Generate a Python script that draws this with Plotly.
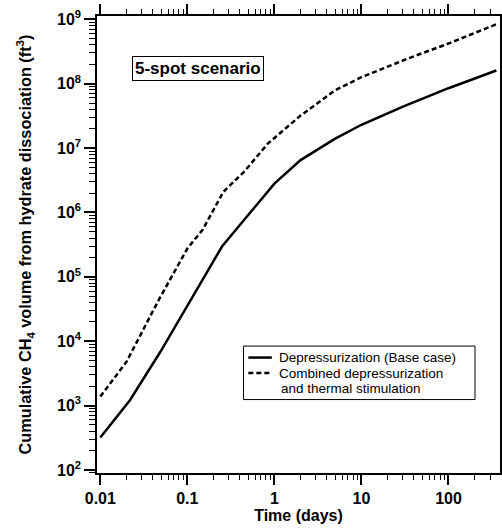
import plotly.graph_objects as go

# Data
time_dep = [0.01, 0.022, 0.049, 0.1, 0.25, 0.5, 1, 2, 5, 10, 30, 100, 355]
vol_dep = [320, 1220, 6850, 3.6e4, 2.95e5, 9.1e5, 2.8e6, 6.5e6, 1.4e7, 2.3e7, 4.4e7, 8.5e7, 1.6e8]

time_comb = [0.01, 0.02, 0.047, 0.1, 0.15, 0.26, 0.45, 0.84, 2, 5, 10, 34, 100, 365]
vol_comb = [1380, 4800, 4.4e4, 2.75e5, 5.4e5, 2.1e6, 4.3e6, 1.17e7, 3.2e7, 7.9e7, 1.26e8, 2.45e8, 4.2e8, 8.5e8]

series_names = ["Depressurization (Base case)", "Combined depressurization", "and thermal stimulation"]

x_tickvals = [0.01, 0.1, 1, 10, 100]
x_ticktext = ["0.01", "0.1", "1", "10", "100"]
y_exps = [2, 3, 4, 5, 6, 7, 8, 9]
y_tickvals = [10 ** e for e in y_exps]
y_ticktext = [f"10<sup>{e}</sup>" for e in y_exps]

x_minor = [m * 10 ** e for e in range(-3, 3) for m in range(2, 10)]
y_minor = [m * 10 ** e for e in range(1, 10) for m in range(2, 10)]

font_family = "Liberation Sans, Arial, Helvetica, sans-serif"
DASH = "5px,3px"

fig = go.Figure()
fig.add_trace(go.Scatter(
    x=time_dep, y=vol_dep, mode="lines",
    name=series_names[0], showlegend=False,
    line=dict(color="black", width=2.5),
))
fig.add_trace(go.Scatter(
    x=time_comb, y=vol_comb, mode="lines",
    name=series_names[1] + " " + series_names[2], showlegend=False,
    line=dict(color="black", width=2.5, dash=DASH),
))

axis_common = dict(
    showline=True, linecolor="black", linewidth=1.5,
    mirror="allticks", ticks="outside", tickcolor="black", tickwidth=1.5,
    showgrid=False, zeroline=False,
    tickfont=dict(family=font_family, size=16, color="black", weight="bold"),
)

fig.update_xaxes(
    type="log", range=[-2.038, 2.592],
    tickvals=x_tickvals, ticktext=x_ticktext, ticklen=10,
    minor=dict(tickvals=x_minor, ticks="outside", ticklen=5, tickwidth=1, tickcolor="black"),
    title=dict(text="Time (days)", font=dict(family=font_family, size=16, color="black", weight="bold"), standoff=4),
    **axis_common,
)
fig.update_yaxes(
    type="log", range=[1.953, 9.051],
    tickvals=y_tickvals, ticktext=y_ticktext, ticklen=11,
    minor=dict(tickvals=y_minor, ticks="outside", ticklen=6, tickwidth=1, tickcolor="black"),
    title=dict(text="Cumulative CH<sub>4</sub> volume from hydrate dissociation (ft<sup>3</sup>)",
               font=dict(family=font_family, size=16.3, color="black", weight="bold"), standoff=21),
    **axis_common,
)

fig.add_annotation(
    xref="paper", yref="paper", x=0.251, y=0.886,
    text="5-spot scenario", showarrow=False,
    font=dict(family=font_family, size=17, color="black", weight="bold"),
    bordercolor="black", borderwidth=1, borderpad=2, bgcolor="white",
    xanchor="center", yanchor="middle",
)

# Hand-built legend (box, line samples, text) in paper coordinates
leg_x0, leg_x1, leg_y0, leg_y1 = 0.3635, 0.938, 0.1607, 0.2777
fig.add_shape(type="rect", xref="paper", yref="paper",
              x0=leg_x0, x1=leg_x1, y0=leg_y0, y1=leg_y1,
              line=dict(color="black", width=1), fillcolor="white", layer="above")
row_y = [0.2526, 0.2187, 0.1848]
fig.add_shape(type="line", xref="paper", yref="paper", x0=0.3755, x1=0.4339,
              y0=row_y[0], y1=row_y[0], line=dict(color="black", width=2.5), layer="above")
fig.add_shape(type="line", xref="paper", yref="paper", x0=0.3755, x1=0.4339,
              y0=row_y[1], y1=row_y[1], line=dict(color="black", width=2.5, dash=DASH), layer="above")
text_x = [0.4488, 0.4488, 0.4545]
for name, tx, ty in zip(series_names, text_x, row_y):
    fig.add_annotation(xref="paper", yref="paper", x=tx, y=ty, text=name, showarrow=False,
                       xanchor="left", yanchor="middle", borderpad=0,
                       font=dict(family=font_family, size=13.5, color="black"))

fig.update_layout(
    width=502, height=529,
    margin=dict(l=97, r=2, t=16, b=56, autoexpand=False),
    paper_bgcolor="white", plot_bgcolor="white",
    font=dict(family=font_family, color="black"),
    showlegend=False,
)

fig.write_html("out.html")
